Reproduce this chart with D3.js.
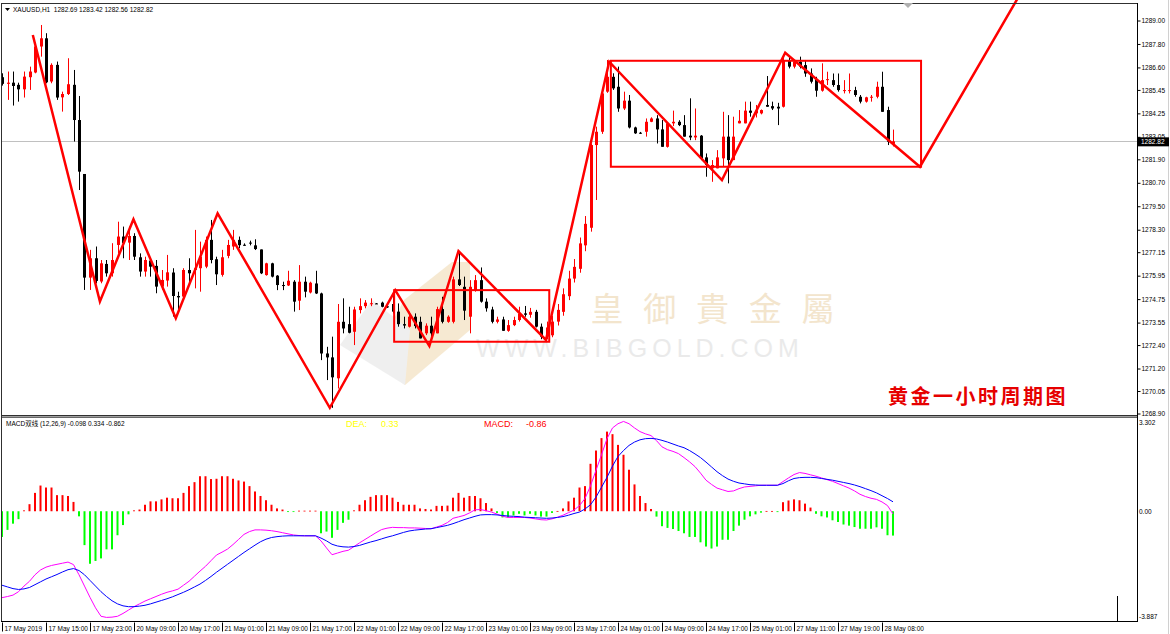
<!DOCTYPE html>
<html><head><meta charset="utf-8">
<script src="https://cdn.jsdelivr.net/npm/d3@7"></script>
<style>body{margin:0;background:#fff;overflow:hidden}svg{display:block}</style>
</head><body><svg id="c" width="1170" height="634"></svg>
<script>
// ---------------- DATA ----------------
const symbolTitle = "XAUUSD,H1  1282.69 1283.42 1282.56 1282.82";
const lastPrice = 1282.82;
const opens = [1286.10,1285.76,1285.82,1285.71,1285.48,1286.10,1286.34,1287.67,1288.09,1285.88,1286.73,1285.07,1285.24,1285.71,1283.91,1281.15,1275.85,1276.84,1275.65,1276.55,1276.07,1277.52,1277.95,1277.64,1277.98,1276.89,1276.16,1276.72,1276.45,1275.39,1275.70,1276.11,1274.91,1274.88,1276.24,1276.24,1276.33,1276.41,1277.78,1276.79,1275.99,1276.96,1277.44,1277.78,1277.53,1277.64,1277.50,1277.29,1275.98,1276.58,1275.95,1275.47,1275.45,1275.64,1274.67,1275.64,1275.09,1275.55,1275.04,1271.97,1271.77,1270.70,1273.59,1273.47,1273.08,1274.19,1274.39,1274.53,1274.53,1274.57,1274.38,1274.50,1274.11,1273.47,1273.34,1273.85,1273.59,1273.00,1273.39,1273.00,1274.24,1273.59,1273.59,1275.76,1275.38,1273.85,1275.21,1275.72,1274.62,1274.22,1273.59,1273.71,1273.13,1273.42,1273.68,1274.02,1273.95,1274.10,1273.34,1272.83,1272.90,1273.60,1274.10,1274.90,1275.80,1276.30,1277.50,1278.40,1282.63,1283.31,1285.36,1286.12,1285.61,1284.50,1284.90,1283.53,1283.26,1283.31,1283.82,1283.99,1283.43,1282.54,1283.74,1283.82,1283.65,1283.11,1283.02,1283.11,1282.00,1281.44,1281.44,1281.95,1283.06,1281.86,1283.74,1283.74,1284.39,1284.25,1284.25,1284.68,1284.62,1284.59,1284.59,1286.98,1286.64,1286.89,1286.72,1286.29,1285.99,1285.41,1285.95,1285.95,1285.70,1285.41,1285.41,1285.44,1285.10,1284.85,1285.07,1285.10,1285.61,1284.42,1282.69];
const highs = [1286.30,1286.39,1286.39,1285.82,1286.39,1286.64,1287.87,1288.77,1288.35,1286.81,1286.90,1285.36,1287.07,1286.47,1285.14,1281.15,1277.27,1277.44,1276.75,1276.75,1277.61,1278.71,1278.46,1278.46,1278.12,1277.09,1276.92,1276.89,1276.75,1276.24,1277.01,1276.33,1275.13,1276.33,1276.84,1278.29,1277.69,1277.95,1278.80,1276.92,1277.27,1277.78,1278.29,1277.95,1277.60,1277.74,1277.81,1277.29,1276.61,1276.61,1275.98,1275.64,1276.20,1275.72,1276.49,1275.90,1275.64,1276.20,1275.08,1272.31,1272.83,1274.50,1274.79,1274.36,1274.36,1274.79,1274.70,1274.79,1274.55,1274.62,1274.45,1274.96,1274.53,1273.85,1274.11,1274.02,1273.85,1273.51,1273.85,1274.36,1274.87,1273.92,1275.90,1277.17,1275.90,1275.72,1275.98,1276.37,1274.79,1274.36,1273.85,1273.85,1273.68,1273.85,1274.36,1274.40,1274.30,1274.20,1273.50,1273.60,1273.90,1274.50,1275.30,1276.20,1276.80,1277.90,1279.00,1282.70,1283.57,1285.40,1286.98,1286.30,1286.64,1285.36,1285.19,1283.57,1283.30,1283.99,1284.05,1284.16,1283.91,1283.80,1284.39,1283.90,1284.16,1285.02,1284.50,1283.14,1282.20,1281.86,1282.37,1284.33,1284.16,1284.08,1284.42,1284.85,1284.85,1284.68,1284.45,1286.16,1284.85,1284.79,1287.10,1287.23,1286.98,1287.15,1286.98,1286.55,1286.12,1286.81,1286.38,1286.29,1286.29,1285.95,1286.29,1285.61,1285.19,1285.10,1285.19,1285.87,1286.38,1284.59,1283.42];
const lows = [1285.67,1284.94,1284.65,1284.85,1285.06,1285.45,1286.30,1287.15,1285.79,1285.79,1284.94,1284.34,1285.19,1282.81,1280.33,1275.22,1275.22,1275.56,1275.56,1275.90,1275.90,1277.09,1276.84,1276.75,1276.75,1275.90,1275.90,1275.90,1275.05,1275.22,1275.39,1273.86,1274.03,1274.79,1275.56,1275.30,1275.13,1276.33,1276.58,1275.47,1275.90,1276.84,1277.27,1277.35,1277.48,1277.50,1277.26,1276.03,1275.95,1275.86,1275.21,1275.21,1275.42,1274.11,1274.19,1274.84,1275.04,1275.01,1271.63,1270.61,1269.19,1270.18,1273.00,1273.00,1272.40,1274.02,1274.28,1274.39,1274.50,1274.33,1274.30,1274.02,1273.34,1273.25,1273.30,1273.25,1272.74,1272.91,1272.66,1273.00,1273.51,1273.54,1273.51,1275.42,1273.68,1273.00,1275.13,1274.57,1274.11,1273.51,1273.51,1273.13,1273.08,1273.37,1273.60,1273.85,1273.80,1273.30,1272.70,1272.70,1272.80,1273.40,1273.90,1274.70,1275.60,1276.10,1277.20,1278.20,1279.82,1283.20,1285.30,1285.45,1284.33,1284.42,1283.48,1283.20,1283.20,1283.06,1283.80,1282.71,1282.54,1282.50,1283.60,1283.60,1283.06,1282.88,1282.88,1281.86,1281.01,1280.75,1281.44,1281.52,1280.67,1281.86,1283.74,1283.74,1284.08,1284.04,1284.20,1284.59,1284.42,1283.65,1284.55,1286.55,1286.55,1286.55,1286.12,1285.78,1285.10,1285.36,1285.70,1285.61,1285.36,1285.27,1285.27,1285.10,1284.76,1284.80,1284.85,1285.02,1284.33,1282.63,1282.56];
const closes = [1285.76,1285.82,1285.65,1285.48,1286.13,1286.39,1287.67,1288.09,1285.84,1286.73,1285.06,1285.24,1285.74,1283.91,1281.27,1275.85,1276.84,1275.68,1276.58,1276.07,1276.75,1277.95,1277.61,1277.98,1276.92,1276.16,1276.75,1276.41,1275.39,1275.73,1276.12,1274.91,1274.84,1276.24,1276.07,1276.33,1276.92,1277.78,1276.75,1276.02,1276.89,1277.52,1277.78,1277.51,1277.52,1277.62,1277.31,1276.07,1276.58,1275.90,1275.47,1275.46,1275.69,1274.62,1275.64,1275.13,1275.59,1275.04,1271.97,1271.77,1270.75,1273.59,1273.25,1273.03,1274.22,1274.39,1274.57,1274.54,1274.52,1274.36,1274.36,1274.11,1273.47,1273.40,1273.85,1273.37,1272.74,1273.39,1273.00,1274.24,1273.59,1273.85,1275.76,1275.47,1274.16,1275.38,1275.72,1274.62,1274.28,1273.59,1273.71,1273.13,1273.42,1273.68,1274.00,1273.95,1274.10,1273.34,1272.83,1273.30,1273.60,1274.20,1275.00,1275.80,1276.40,1277.60,1278.60,1282.63,1283.31,1285.27,1286.12,1285.53,1284.50,1284.90,1283.53,1283.23,1283.25,1283.82,1283.99,1283.43,1282.54,1283.74,1283.82,1283.65,1283.06,1283.02,1283.11,1281.95,1281.61,1281.61,1282.00,1283.06,1281.86,1283.06,1283.87,1284.39,1284.28,1284.39,1284.42,1284.59,1284.50,1284.50,1286.98,1286.64,1286.89,1286.64,1286.29,1285.87,1285.41,1285.95,1286.00,1285.70,1285.44,1285.44,1285.44,1285.19,1284.85,1285.07,1285.10,1285.61,1284.33,1282.80,1282.82];

const priceTicks = ["1289.00","1287.80","1286.60","1285.45","1284.25","1283.05","1281.90","1280.70","1279.50","1278.30","1277.15","1275.95","1274.75","1273.55","1272.40","1271.20","1270.05","1268.90"];
const timeIdx = [0,8,16,24,32,40,48,56,64,72,80,88,96,104,112,120,128,136,144,152,160];
const timeLabels = ["17 May 2019","17 May 15:00","17 May 23:00","20 May 09:00","20 May 17:00","21 May 01:00","21 May 09:00","21 May 17:00","22 May 01:00","22 May 09:00","22 May 17:00","23 May 01:00","23 May 09:00","23 May 17:00","24 May 01:00","24 May 09:00","24 May 17:00","25 May 01:00","27 May 11:00","27 May 19:00","28 May 08:00"];

// zigzag annotation (bar index, price)
const zigIdx   = [5.6, 17.8, 23.9, 31.6, 39.2, 59.6, 71.5, 77.7, 83.0, 98.9, 110.4, 130.9, 142.4, 166.9, 184.6];
const zigPrice = [1288.26,1274.63,1278.83,1273.77,1279.14,1269.19,1275.21,1272.35,1277.21,1272.66,1286.89,1280.84,1287.35,1281.52,1290.10];
// rectangles: start/end bar index, top/bottom price
const boxStart = [71.3, 110.7];
const boxEnd   = [99.5, 167.1];
const boxTop   = [1275.21, 1286.94];
const boxBot   = [1272.57, 1281.52];

// MACD
const macdTicks = ["3.302","0.00","-3.887"];
const macdHist = [-0.91,-0.66,-0.44,-0.28,0.03,0.25,0.65,0.91,0.84,0.84,0.57,0.57,0.54,0.33,-0.18,-1.20,-1.86,-1.76,-1.67,-1.35,-1.35,-0.85,-0.49,-0.11,0.03,0.06,0.23,0.35,0.35,0.42,0.48,0.46,0.46,0.65,0.89,1.03,1.24,1.24,1.14,1.15,1.24,1.24,1.15,1.09,1.05,0.89,0.70,0.54,0.39,0.23,0.10,0.06,-0.02,-0.02,0.02,0.02,0.02,0.02,-0.78,-0.72,-0.94,-0.66,-0.41,-0.30,0.03,0.23,0.39,0.51,0.57,0.57,0.57,0.48,0.33,0.23,0.23,0.23,0.10,0.08,0.06,0.19,0.19,0.20,0.48,0.65,0.48,0.54,0.54,0.46,0.29,0.10,-0.06,-0.22,-0.22,-0.15,-0.09,-0.15,-0.09,-0.15,-0.19,-0.19,-0.06,0.01,0.10,0.35,0.48,0.84,0.89,1.68,2.15,2.59,2.82,2.73,2.35,2.00,1.47,0.95,0.54,0.29,0.08,-0.19,-0.53,-0.59,-0.63,-0.70,-0.78,-0.91,-0.91,-1.10,-1.25,-1.32,-1.25,-1.01,-1.01,-0.70,-0.51,-0.30,-0.18,-0.11,-0.05,0.01,0.01,-0.03,0.32,0.38,0.42,0.39,0.27,0.13,-0.09,-0.18,-0.22,-0.32,-0.38,-0.47,-0.51,-0.56,-0.62,-0.62,-0.62,-0.57,-0.62,-0.85,-0.862];
const difLine = [-3.06,-3.02,-2.97,-2.85,-2.65,-2.48,-2.25,-2.08,-1.98,-1.92,-1.88,-1.84,-1.80,-1.89,-2.25,-2.65,-3.05,-3.42,-3.72,-3.76,-3.75,-3.72,-3.62,-3.50,-3.38,-3.28,-3.18,-3.10,-3.02,-2.94,-2.87,-2.82,-2.76,-2.62,-2.48,-2.30,-2.12,-1.95,-1.75,-1.55,-1.45,-1.34,-1.18,-1.00,-0.82,-0.72,-0.66,-0.66,-0.67,-0.69,-0.72,-0.76,-0.80,-0.84,-0.86,-0.87,-0.87,-0.87,-1.05,-1.30,-1.54,-1.48,-1.42,-1.38,-1.25,-1.12,-1.00,-0.88,-0.76,-0.65,-0.60,-0.57,-0.58,-0.58,-0.59,-0.59,-0.60,-0.61,-0.62,-0.56,-0.50,-0.40,-0.25,-0.20,-0.15,-0.06,0.05,0.06,0.02,-0.03,-0.10,-0.18,-0.22,-0.22,-0.22,-0.22,-0.24,-0.27,-0.30,-0.31,-0.27,-0.21,-0.14,-0.05,0.04,0.20,0.45,0.90,1.45,2.00,2.57,2.95,3.10,3.18,3.10,2.95,2.82,2.74,2.68,2.50,2.28,2.18,2.12,2.04,1.90,1.75,1.58,1.35,1.10,0.95,0.82,0.76,0.70,0.72,0.80,0.86,0.88,0.90,0.92,0.92,0.92,0.92,1.05,1.18,1.30,1.37,1.34,1.29,1.24,1.18,1.12,1.06,0.98,0.90,0.82,0.72,0.60,0.52,0.46,0.42,0.33,0.20,-0.098];
const deaLine = [-2.62,-2.68,-2.74,-2.77,-2.75,-2.70,-2.60,-2.50,-2.40,-2.32,-2.24,-2.15,-2.07,-2.03,-2.10,-2.25,-2.45,-2.65,-2.85,-3.02,-3.17,-3.28,-3.35,-3.38,-3.38,-3.36,-3.33,-3.28,-3.22,-3.16,-3.10,-3.03,-2.95,-2.87,-2.78,-2.68,-2.58,-2.45,-2.31,-2.16,-2.02,-1.88,-1.74,-1.60,-1.46,-1.33,-1.20,-1.08,-0.99,-0.93,-0.90,-0.88,-0.87,-0.87,-0.87,-0.87,-0.87,-0.87,-0.95,-1.05,-1.17,-1.23,-1.26,-1.27,-1.25,-1.21,-1.15,-1.09,-1.04,-0.98,-0.92,-0.87,-0.81,-0.75,-0.70,-0.67,-0.65,-0.63,-0.62,-0.58,-0.54,-0.50,-0.44,-0.37,-0.30,-0.24,-0.18,-0.13,-0.12,-0.12,-0.13,-0.15,-0.17,-0.18,-0.19,-0.21,-0.22,-0.23,-0.24,-0.25,-0.24,-0.22,-0.19,-0.14,-0.08,-0.03,0.08,0.23,0.50,0.85,1.20,1.60,1.94,2.15,2.33,2.45,2.53,2.57,2.58,2.56,2.51,2.45,2.38,2.31,2.25,2.15,2.03,1.90,1.74,1.57,1.40,1.26,1.14,1.06,1.00,0.97,0.94,0.93,0.92,0.92,0.92,0.92,0.98,1.08,1.16,1.19,1.20,1.20,1.19,1.16,1.13,1.10,1.06,1.02,0.98,0.93,0.87,0.80,0.73,0.65,0.55,0.45,0.334];
const macdTitle = "MACD双线 (12,26,9) -0.098 0.334 -0.862";
const deaLabel = ["DEA:", "0.33"];
const macdLabel = ["MACD:", "-0.86"];
const chartTitle = "黄金一小时周期图";
const watermarkChars = ["皇","御","貴","金","屬"];
const watermarkUrl = "WWW.BIBGOLD.COM";

// ---------------- LAYOUT ----------------
const svg = d3.select('#c');
const FONT = "'Liberation Sans', Arial, 'Noto Sans CJK SC', sans-serif";
const L = 2, R = 1137, mainTop = 3, mainBot = 415, macdTop = 418, macdBot = 621;
const lastIdx = opens.length - 1;
const x = d3.scaleLinear().domain([0, lastIdx]).range([2, 893]);
const y = d3.scaleLinear().domain([1268.90, 1289.00]).range([413.5, 20.5]);
const ym = d3.scaleLinear().domain([-3.887, 3.302]).range([macdBot, macdTop]);
const px = v => Math.round(v) + 0.5;

svg.append('rect').attr('width', 1170).attr('height', 634).attr('fill', '#fff');

// ---------- watermark ----------
const wm = svg.append('g').attr('opacity', 0.6);
wm.append('path').attr('d', 'M372,360 L404,300 L452,262 L470,262 L470,330 L405,385 Z').attr('fill', '#f1dcb5');
wm.append('path').attr('d', 'M340,345 L372,300 L410,330 L405,385 Z').attr('fill', '#e6e6e6');
const wmX = d3.scalePoint().domain(watermarkChars).range([607, 818]);
wm.selectAll('text.wc').data(watermarkChars).enter().append('text').attr('class', 'wc')
  .attr('x', d => wmX(d)).attr('y', 321).attr('text-anchor', 'middle')
  .attr('font-family', "'Noto Sans CJK TC','Noto Sans CJK SC'").attr('font-size', 33)
  .attr('fill', '#ecd4ad').text(d => d);
wm.append('text').attr('x', 640).attr('y', 357).attr('text-anchor', 'middle')
  .attr('font-family', FONT).attr('font-size', 25).attr('letter-spacing', 5)
  .attr('fill', '#dddddd').text(watermarkUrl);

// ---------- last price line ----------
svg.append('line').attr('x1', L).attr('x2', R).attr('y1', px(y(lastPrice))).attr('y2', px(y(lastPrice)))
  .attr('stroke', '#c0c0c0').attr('stroke-width', 1);

// ---------- candles ----------
const cg = svg.append('g');
d3.range(opens.length).forEach(i => {
  const o = opens[i], h = highs[i], l = lows[i], c = closes[i];
  const col = c >= o ? '#ff0000' : '#000000';
  const cx = px(x(i));
  cg.append('line').attr('x1', cx).attr('x2', cx).attr('y1', y(h)).attr('y2', y(l))
    .attr('stroke', col).attr('stroke-width', 1);
  const top = y(Math.max(o, c)), bot = y(Math.min(o, c));
  cg.append('rect').attr('x', cx - 1.5).attr('y', top).attr('width', 3)
    .attr('height', Math.max(1, bot - top)).attr('fill', col);
});

// ---------- annotations ----------
const ann = svg.append('g').attr('fill', 'none').attr('stroke', '#ff0000');
ann.append('path').datum(d3.range(zigIdx.length))
  .attr('d', d3.line().x(k => x(zigIdx[k])).y(k => y(zigPrice[k])))
  .attr('stroke-width', 2.5).attr('stroke-linejoin', 'miter');
boxStart.forEach((s, k) => {
  ann.append('rect').attr('x', x(s)).attr('y', y(boxTop[k]))
    .attr('width', x(boxEnd[k]) - x(s)).attr('height', y(boxBot[k]) - y(boxTop[k]))
    .attr('stroke-width', 2);
});

// ---------- MACD ----------
const mg = svg.append('g');
macdHist.forEach((v, i) => {
  const cx = x(i);
  const y0 = ym(0), y1 = ym(v);
  mg.append('rect').attr('x', cx - 1).attr('width', 2)
    .attr('y', Math.min(y0, y1)).attr('height', Math.max(0.8, Math.abs(y1 - y0)))
    .attr('fill', v >= 0 ? '#ff0000' : '#00ff00');
});
mg.append('path').datum(difLine).attr('fill', 'none').attr('stroke', '#ff00ff').attr('stroke-width', 1)
  .attr('d', d3.line().x((d, i) => x(i)).y(d => ym(d)));
mg.append('path').datum(deaLine).attr('fill', 'none').attr('stroke', '#0000ff').attr('stroke-width', 1)
  .attr('d', d3.line().x((d, i) => x(i)).y(d => ym(d)));

// ---------- frames ----------
const fr = svg.append('g').attr('stroke', '#303030').attr('fill', 'none');
fr.append('line').attr('x1', L - 0.5).attr('x2', L - 0.5).attr('y1', mainTop).attr('y2', macdBot);
fr.append('line').attr('x1', L).attr('x2', R).attr('y1', mainTop + 0.5).attr('y2', mainTop + 0.5);
fr.append('line').attr('x1', L).attr('x2', R).attr('y1', mainBot + 0.5).attr('y2', mainBot + 0.5);
svg.append('rect').attr('x', L).attr('y', mainBot + 1).attr('width', R - L).attr('height', 1.5).attr('fill', '#a0a0a0');
fr.append('line').attr('x1', L).attr('x2', R).attr('y1', macdTop - 0.5).attr('y2', macdTop - 0.5);
fr.append('line').attr('x1', 1117.5).attr('x2', 1117.5).attr('y1', 596).attr('y2', macdBot).attr('stroke', '#000');
svg.append('line').attr('x1', 1168.5).attr('x2', 1168.5).attr('y1', 0).attr('y2', 634).attr('stroke', '#d0d0d0');
// chart shift marker
svg.append('path').attr('d', 'M903,3 L913,3 L908,8 Z').attr('fill', '#b0b0b0');

// ---------- price axis ----------
const ax = svg.append('g').attr('transform', `translate(${R + 0.5},0)`)
  .call(d3.axisRight(y).tickValues(priceTicks.map(Number)).tickFormat((d, i) => priceTicks[i]).tickSize(3).tickSizeOuter(0));
ax.select('.domain').attr('stroke', '#000').attr('d', `M0,${mainTop}V${macdBot + 1}`);
ax.selectAll('.tick line').attr('stroke', '#000');
ax.selectAll('.tick text').attr('font-family', FONT).attr('font-size', 6.5).attr('fill', '#000').attr('x', 4);

// current price box
svg.append('rect').attr('x', R + 1).attr('y', y(lastPrice) - 4).attr('width', 31).attr('height', 9).attr('fill', '#000');
svg.append('text').attr('x', R + 4).attr('y', y(lastPrice) + 2.6).attr('font-family', FONT).attr('font-size', 6.5)
  .attr('fill', '#fff').text(lastPrice.toFixed(2));

// MACD axis labels
const macdTickY = [macdTop + 4.5, ym(0), macdBot - 4];
macdTicks.forEach((t, k) => {
  svg.append('text').attr('x', R + 2).attr('y', macdTickY[k] + 2.4).attr('font-family', FONT)
    .attr('font-size', 6.5).attr('fill', '#000').text(t);
});

// ---------- time axis ----------
const tx = svg.append('g').attr('transform', `translate(0,${macdBot + 0.5})`)
  .call(d3.axisBottom(x).tickValues(timeIdx).tickFormat((d, i) => timeLabels[i]).tickSize(10).tickSizeOuter(0));
tx.select('.domain').attr('stroke', '#000').attr('d', `M${L - 1},0H${R}`);
tx.selectAll('.tick line').attr('stroke', '#000').attr('y1', 1);
tx.selectAll('.tick text').attr('font-family', FONT).attr('font-size', 6.5).attr('fill', '#000')
  .attr('text-anchor', 'start').attr('x', 2).attr('y', 5).attr('dy', '0.71em');

// ---------- texts ----------
svg.append('path').attr('d', 'M5,8 L10,8 L7.5,11 Z').attr('fill', '#000');
svg.append('text').attr('x', 13).attr('y', 12).attr('font-family', FONT).attr('font-size', 6.5)
  .attr('fill', '#000').attr('xml:space', 'preserve').style('white-space', 'pre').text(symbolTitle);
svg.append('text').attr('x', 6).attr('y', 426).attr('font-family', FONT).attr('font-size', 6.5)
  .attr('fill', '#000').text(macdTitle);
svg.append('text').attr('x', 346).attr('y', 427).attr('font-family', FONT).attr('font-size', 9).attr('fill', '#ffff00').text(deaLabel[0]);
svg.append('text').attr('x', 381).attr('y', 427).attr('font-family', FONT).attr('font-size', 9).attr('fill', '#ffff00').text(deaLabel[1]);
svg.append('text').attr('x', 484).attr('y', 427).attr('font-family', FONT).attr('font-size', 9).attr('fill', '#ff0000').text(macdLabel[0]);
svg.append('text').attr('x', 526).attr('y', 427).attr('font-family', FONT).attr('font-size', 9).attr('fill', '#ff0000').text(macdLabel[1]);
svg.append('text').attr('x', 888).attr('y', 404).attr('font-family', "'Noto Sans CJK SC'").attr('font-weight', 'bold')
  .attr('font-size', 20).attr('letter-spacing', 2.5).attr('fill', '#e60000').text(chartTitle);
</script></body></html>
